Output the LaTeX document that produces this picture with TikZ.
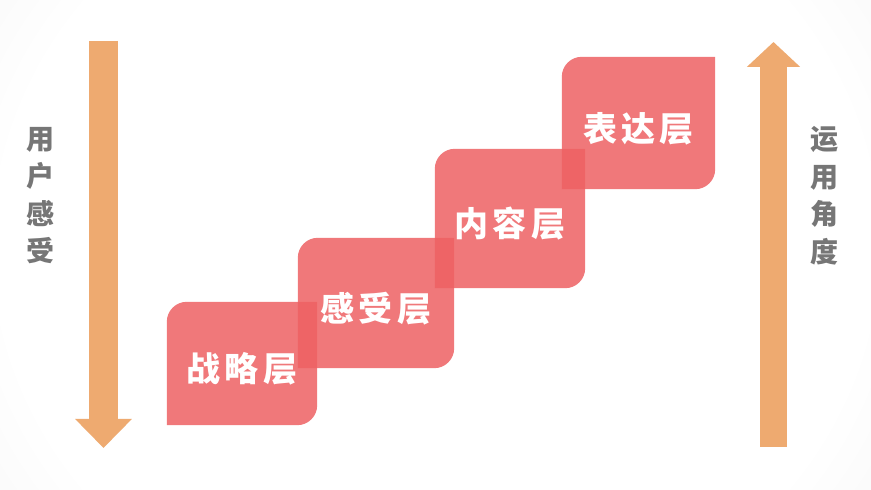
\documentclass[tikz,border=0pt]{standalone}
\usepackage{fontspec}
\usepackage{tikz}
\usetikzlibrary{arrows.meta,backgrounds}

\newfontfamily\cjk{Noto Sans CJK SC}
\newfontfamily\cjkwide[LetterSpace=12]{Noto Sans CJK SC}

\definecolor{layerred}{RGB}{238,97,99}
\definecolor{arroworange}{RGB}{238,170,112}
\definecolor{sidegray}{RGB}{118,118,118}

\pgfdeclareradialshading{bgglow}{\pgfpoint{0bp}{0bp}}{%
  color(0bp)=(white); color(25bp)=(white); color(38bp)=(gray!10);
  color(50bp)=(gray!32); color(60bp)=(gray!42); color(72bp)=(gray!46)}

% box with rounded top left and bottom right corners
\newcommand\layerfill[1]{%
  \fill[layerred, fill opacity=0.85] (#1.south west) -- ([yshift=-20pt]#1.north west)
    arc[start angle=180, end angle=90, radius=20pt] -- (#1.north east)
    -- ([yshift=20pt]#1.south east)
    arc[start angle=0, end angle=-90, radius=20pt] -- cycle;}

\tikzset{
  layer/.style={inner sep=0pt, text=white, text height=41pt, text depth=4pt,
    font=\cjkwide\bfseries\fontsize{34pt}{34pt}\selectfont},
  sidetext/.style={align=center, text=sidegray,
    font=\cjk\bfseries\fontsize{28pt}{37.5pt}\selectfont},
  flow/.style={draw=arroworange, line width=#1}
}

\begin{document}
\begin{tikzpicture}[x=1pt, y=1pt]
    \useasboundingbox (0,0) rectangle (871,490);
    \begin{scope}[on background layer]
        \clip (0,0) rectangle (871,490);
        \shade[shading=bgglow] (0,-150) rectangle (871,640);
    \end{scope}

    % the four layers, bottom to top
    \node[layer, minimum width=150pt, minimum height=123pt] (strategy) at (242,126.5) {战略层};
    \node[layer, minimum width=156pt, minimum height=130pt] (feeling) at (376,187) {感受层};
    \node[layer, minimum width=150pt, minimum height=139pt] (content) at (510,271.5) {内容层};
    \node[layer, minimum width=153pt, minimum height=132pt] (express) at (638.5,367) {表达层};
    \begin{scope}[on background layer]
        \layerfill{strategy}
        \layerfill{feeling}
        \layerfill{content}
        \layerfill{express}
    \end{scope}

    % side arrows
    \coordinate (feeltop) at (103.5,449);
    \coordinate (feelend) at (103.5,42);
    \coordinate (usebase) at (773.5,43);
    \coordinate (usetip) at (773.5,448);
    \draw[flow=29pt, -{Triangle[length=29pt, width=55pt]}] (feeltop) -- (feelend);
    \draw[flow=27pt, -{Triangle[length=25pt, width=52pt]}] (usebase) -- (usetip);

    \node[sidetext] (userfeel) at (40,294.5) {用\\户\\感\\受};
    \node[sidetext] (useview) at (824,294.5) {运\\用\\角\\度};
\end{tikzpicture}
\end{document}
